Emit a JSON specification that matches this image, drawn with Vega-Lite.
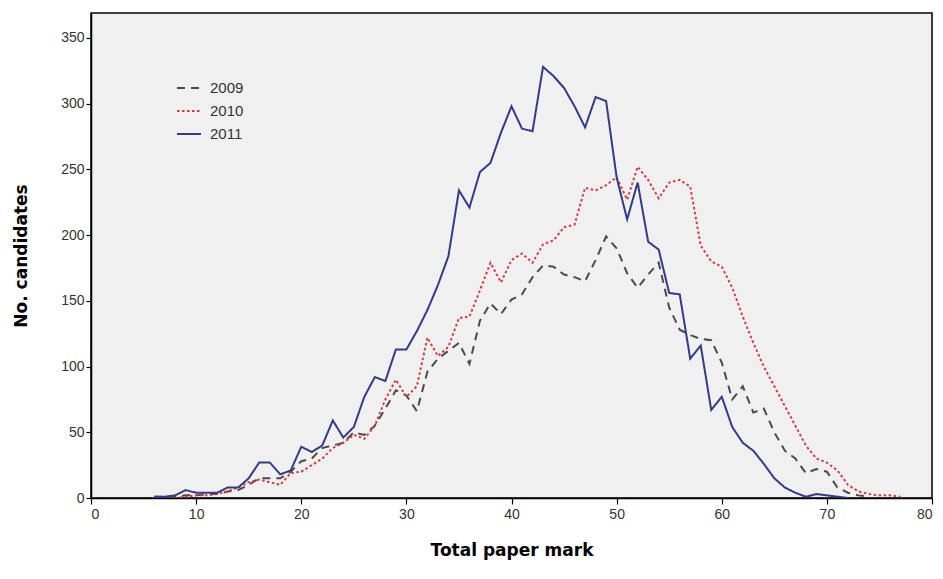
{
  "$schema": "https://vega.github.io/schema/vega-lite/v6.json",
  "width": 841,
  "height": 485,
  "autosize": {"type": "none"},
  "padding": {"left": 91, "top": 13, "right": 11, "bottom": 81},
  "background": "white",
  "config": {
    "view": {"fill": "#f0f0f0", "stroke": "black", "strokeWidth": 1.5},
    "font": "Liberation Sans"
  },
  "data": {
    "values": [
      {"mark":6,"year":"2009","n":1},{"mark":7,"year":"2009","n":1},{"mark":8,"year":"2009","n":1},{"mark":9,"year":"2009","n":2},{"mark":10,"year":"2009","n":2},{"mark":11,"year":"2009","n":3},{"mark":12,"year":"2009","n":3},{"mark":13,"year":"2009","n":5},{"mark":14,"year":"2009","n":6},{"mark":15,"year":"2009","n":10},{"mark":16,"year":"2009","n":15},{"mark":17,"year":"2009","n":15},{"mark":18,"year":"2009","n":15},{"mark":19,"year":"2009","n":20},{"mark":20,"year":"2009","n":28},{"mark":21,"year":"2009","n":30},{"mark":22,"year":"2009","n":38},{"mark":23,"year":"2009","n":40},{"mark":24,"year":"2009","n":42},{"mark":25,"year":"2009","n":50},{"mark":26,"year":"2009","n":48},{"mark":27,"year":"2009","n":55},{"mark":28,"year":"2009","n":68},{"mark":29,"year":"2009","n":82},{"mark":30,"year":"2009","n":78},{"mark":31,"year":"2009","n":66},{"mark":32,"year":"2009","n":96},{"mark":33,"year":"2009","n":106},{"mark":34,"year":"2009","n":112},{"mark":35,"year":"2009","n":118},{"mark":36,"year":"2009","n":102},{"mark":37,"year":"2009","n":135},{"mark":38,"year":"2009","n":148},{"mark":39,"year":"2009","n":140},{"mark":40,"year":"2009","n":151},{"mark":41,"year":"2009","n":155},{"mark":42,"year":"2009","n":168},{"mark":43,"year":"2009","n":177},{"mark":44,"year":"2009","n":176},{"mark":45,"year":"2009","n":170},{"mark":46,"year":"2009","n":168},{"mark":47,"year":"2009","n":165},{"mark":48,"year":"2009","n":181},{"mark":49,"year":"2009","n":199},{"mark":50,"year":"2009","n":190},{"mark":51,"year":"2009","n":171},{"mark":52,"year":"2009","n":160},{"mark":53,"year":"2009","n":170},{"mark":54,"year":"2009","n":179},{"mark":55,"year":"2009","n":145},{"mark":56,"year":"2009","n":128},{"mark":57,"year":"2009","n":124},{"mark":58,"year":"2009","n":121},{"mark":59,"year":"2009","n":120},{"mark":60,"year":"2009","n":103},{"mark":61,"year":"2009","n":75},{"mark":62,"year":"2009","n":85},{"mark":63,"year":"2009","n":65},{"mark":64,"year":"2009","n":68},{"mark":65,"year":"2009","n":50},{"mark":66,"year":"2009","n":36},{"mark":67,"year":"2009","n":30},{"mark":68,"year":"2009","n":19},{"mark":69,"year":"2009","n":22},{"mark":70,"year":"2009","n":20},{"mark":71,"year":"2009","n":8},{"mark":72,"year":"2009","n":4},{"mark":73,"year":"2009","n":2},{"mark":74,"year":"2009","n":1},

      {"mark":8,"year":"2010","n":0},{"mark":9,"year":"2010","n":1},{"mark":10,"year":"2010","n":2},{"mark":11,"year":"2010","n":2},{"mark":12,"year":"2010","n":3},{"mark":13,"year":"2010","n":5},{"mark":14,"year":"2010","n":8},{"mark":15,"year":"2010","n":12},{"mark":16,"year":"2010","n":14},{"mark":17,"year":"2010","n":12},{"mark":18,"year":"2010","n":10},{"mark":19,"year":"2010","n":19},{"mark":20,"year":"2010","n":20},{"mark":21,"year":"2010","n":25},{"mark":22,"year":"2010","n":30},{"mark":23,"year":"2010","n":38},{"mark":24,"year":"2010","n":42},{"mark":25,"year":"2010","n":48},{"mark":26,"year":"2010","n":45},{"mark":27,"year":"2010","n":55},{"mark":28,"year":"2010","n":75},{"mark":29,"year":"2010","n":90},{"mark":30,"year":"2010","n":77},{"mark":31,"year":"2010","n":85},{"mark":32,"year":"2010","n":122},{"mark":33,"year":"2010","n":108},{"mark":34,"year":"2010","n":115},{"mark":35,"year":"2010","n":137},{"mark":36,"year":"2010","n":138},{"mark":37,"year":"2010","n":158},{"mark":38,"year":"2010","n":179},{"mark":39,"year":"2010","n":164},{"mark":40,"year":"2010","n":181},{"mark":41,"year":"2010","n":186},{"mark":42,"year":"2010","n":179},{"mark":43,"year":"2010","n":193},{"mark":44,"year":"2010","n":196},{"mark":45,"year":"2010","n":206},{"mark":46,"year":"2010","n":208},{"mark":47,"year":"2010","n":236},{"mark":48,"year":"2010","n":234},{"mark":49,"year":"2010","n":238},{"mark":50,"year":"2010","n":244},{"mark":51,"year":"2010","n":227},{"mark":52,"year":"2010","n":252},{"mark":53,"year":"2010","n":242},{"mark":54,"year":"2010","n":228},{"mark":55,"year":"2010","n":240},{"mark":56,"year":"2010","n":242},{"mark":57,"year":"2010","n":237},{"mark":58,"year":"2010","n":192},{"mark":59,"year":"2010","n":180},{"mark":60,"year":"2010","n":176},{"mark":61,"year":"2010","n":160},{"mark":62,"year":"2010","n":138},{"mark":63,"year":"2010","n":118},{"mark":64,"year":"2010","n":100},{"mark":65,"year":"2010","n":85},{"mark":66,"year":"2010","n":70},{"mark":67,"year":"2010","n":55},{"mark":68,"year":"2010","n":40},{"mark":69,"year":"2010","n":30},{"mark":70,"year":"2010","n":27},{"mark":71,"year":"2010","n":21},{"mark":72,"year":"2010","n":10},{"mark":73,"year":"2010","n":5},{"mark":74,"year":"2010","n":3},{"mark":75,"year":"2010","n":2},{"mark":76,"year":"2010","n":2},{"mark":77,"year":"2010","n":1},

      {"mark":6,"year":"2011","n":1},{"mark":7,"year":"2011","n":1},{"mark":8,"year":"2011","n":2},{"mark":9,"year":"2011","n":6},{"mark":10,"year":"2011","n":4},{"mark":11,"year":"2011","n":4},{"mark":12,"year":"2011","n":4},{"mark":13,"year":"2011","n":8},{"mark":14,"year":"2011","n":8},{"mark":15,"year":"2011","n":15},{"mark":16,"year":"2011","n":27},{"mark":17,"year":"2011","n":27},{"mark":18,"year":"2011","n":18},{"mark":19,"year":"2011","n":21},{"mark":20,"year":"2011","n":39},{"mark":21,"year":"2011","n":35},{"mark":22,"year":"2011","n":40},{"mark":23,"year":"2011","n":59},{"mark":24,"year":"2011","n":46},{"mark":25,"year":"2011","n":54},{"mark":26,"year":"2011","n":77},{"mark":27,"year":"2011","n":92},{"mark":28,"year":"2011","n":89},{"mark":29,"year":"2011","n":113},{"mark":30,"year":"2011","n":113},{"mark":31,"year":"2011","n":127},{"mark":32,"year":"2011","n":143},{"mark":33,"year":"2011","n":162},{"mark":34,"year":"2011","n":184},{"mark":35,"year":"2011","n":234},{"mark":36,"year":"2011","n":221},{"mark":37,"year":"2011","n":248},{"mark":38,"year":"2011","n":255},{"mark":39,"year":"2011","n":278},{"mark":40,"year":"2011","n":298},{"mark":41,"year":"2011","n":281},{"mark":42,"year":"2011","n":279},{"mark":43,"year":"2011","n":328},{"mark":44,"year":"2011","n":321},{"mark":45,"year":"2011","n":312},{"mark":46,"year":"2011","n":298},{"mark":47,"year":"2011","n":282},{"mark":48,"year":"2011","n":305},{"mark":49,"year":"2011","n":302},{"mark":50,"year":"2011","n":244},{"mark":51,"year":"2011","n":212},{"mark":52,"year":"2011","n":240},{"mark":53,"year":"2011","n":195},{"mark":54,"year":"2011","n":189},{"mark":55,"year":"2011","n":156},{"mark":56,"year":"2011","n":155},{"mark":57,"year":"2011","n":106},{"mark":58,"year":"2011","n":116},{"mark":59,"year":"2011","n":67},{"mark":60,"year":"2011","n":77},{"mark":61,"year":"2011","n":54},{"mark":62,"year":"2011","n":42},{"mark":63,"year":"2011","n":36},{"mark":64,"year":"2011","n":26},{"mark":65,"year":"2011","n":15},{"mark":66,"year":"2011","n":8},{"mark":67,"year":"2011","n":4},{"mark":68,"year":"2011","n":1},{"mark":69,"year":"2011","n":3},{"mark":70,"year":"2011","n":2},{"mark":71,"year":"2011","n":1},{"mark":72,"year":"2011","n":0}
    ]
  },
  "mark": {"type": "line", "strokeWidth": 2, "clip": true},
  "encoding": {
    "x": {
      "field": "mark", "type": "quantitative",
      "scale": {"domain": [0, 80], "nice": false, "zero": false},
      "axis": {
        "title": "Total paper mark", "values": [0,10,20,30,40,50,60,70,80],
        "grid": false, "domain": true, "domainColor": "black", "domainWidth": 1.5,
        "tickColor": "black", "tickSize": 6, "tickWidth": 1.2,
        "labelFont": "Liberation Sans", "labelFontSize": 14, "labelColor": "#333333", "labelPadding": 3,
        "titleFont": "DejaVu Sans", "titleFontWeight": "bold", "titleFontSize": 17, "titleColor": "black", "titlePadding": 21
      }
    },
    "y": {
      "field": "n", "type": "quantitative",
      "scale": {"domain": [0, 369], "nice": false},
      "axis": {
        "title": "No. candidates", "values": [0,50,100,150,200,250,300,350],
        "grid": false, "domain": true, "domainColor": "black", "domainWidth": 1.5,
        "tickColor": "black", "tickSize": 5, "tickWidth": 1.2,
        "labelFont": "Liberation Sans", "labelFontSize": 14, "labelColor": "#333333", "labelPadding": 2,
        "titleFont": "DejaVu Sans", "titleFontWeight": "bold", "titleFontSize": 17, "titleColor": "black", "titlePadding": 30
      }
    },
    "color": {
      "field": "year", "type": "nominal",
      "scale": {"domain": ["2009","2010","2011"], "range": ["#4a4a4a", "#d23a44", "#343a86"]},
      "legend": {
        "title": null, "orient": "none", "legendX": 85, "legendY": 62,
        "symbolType": "stroke", "symbolSize": 576, "symbolStrokeWidth": 2,
        "labelFont": "Liberation Sans", "labelFontSize": 15, "labelColor": "#333333",
        "rowPadding": 2, "labelOffset": 8
      }
    },
    "strokeDash": {
      "field": "year", "type": "nominal",
      "scale": {"domain": ["2009","2010","2011"], "range": [[8,6],[2.5,2.5],[1,0]]},
      "legend": {
        "title": null, "orient": "none", "legendX": 85, "legendY": 62,
        "symbolType": "stroke", "symbolSize": 576, "symbolStrokeWidth": 2,
        "labelFont": "Liberation Sans", "labelFontSize": 15, "labelColor": "#333333",
        "rowPadding": 2, "labelOffset": 8
      }
    }
  }
}
